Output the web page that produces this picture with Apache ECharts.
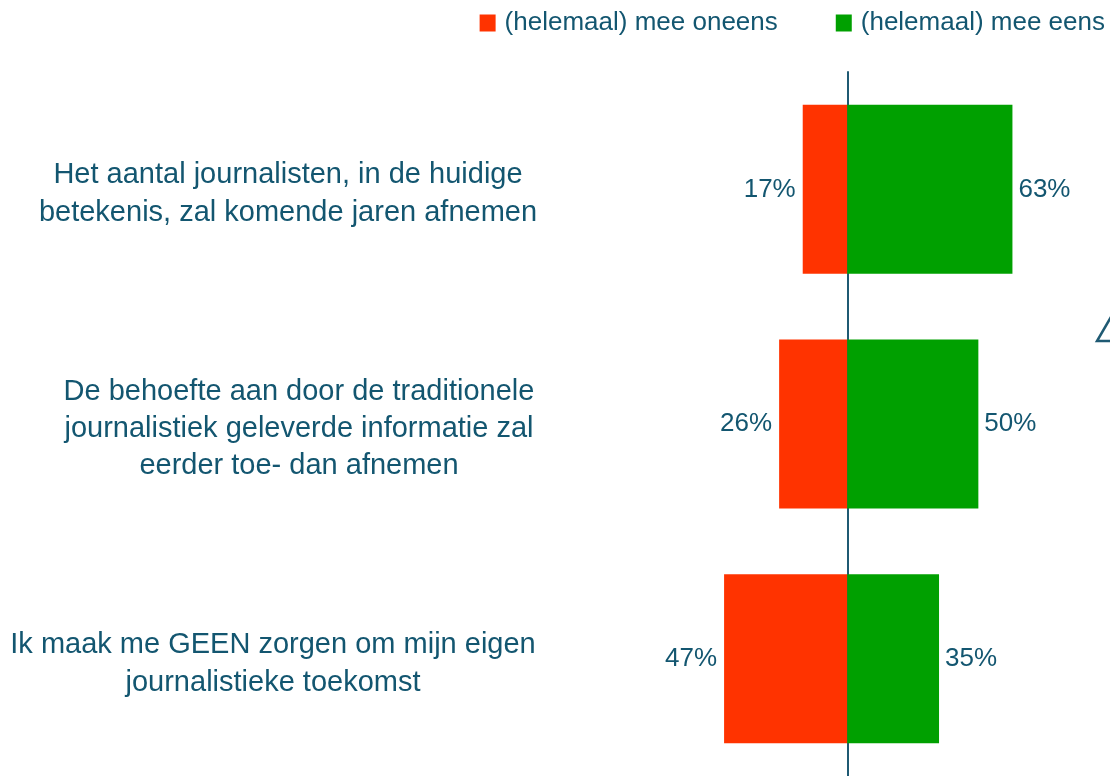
<!DOCTYPE html>
<html>
<head>
<meta charset="utf-8">
<script src="https://cdn.jsdelivr.net/npm/echarts@6/dist/echarts.min.js"></script>
<style>
  html, body { margin: 0; padding: 0; background: #fff; }
  #chart { width: 1110px; height: 776px; }
</style>
</head>
<body>
<div id="chart"></div>
<script>
var categories = [
  'Het aantal journalisten, in de huidige\nbetekenis, zal komende jaren afnemen',
  'De behoefte aan door de traditionele\njournalistiek geleverde informatie zal\neerder toe- dan afnemen',
  'Ik maak me GEEN zorgen om mijn eigen\njournalistieke toekomst'
]
var disagree = [17, 26, 47]
var agree = [63, 50, 35]
var legendNames = ['(helemaal) mee oneens', '(helemaal) mee eens']

var textColor = '#135670'
var font = '"Liberation Sans", Arial, sans-serif'

var chart = echarts.init(document.getElementById('chart'))

var option = {
  animation: false,
  color: ['#ff3300', '#00a000'],
  textStyle: { fontFamily: font, color: textColor },
  legend: {
    data: legendNames,
    top: 5,
    right: 0,
    itemWidth: 16,
    itemHeight: 17,
    itemGap: 58,
    icon: 'rect',
    textStyle: { fontSize: 26, color: textColor, fontFamily: font, padding: [0, 0, 0, 4] }
  },
  grid: {
    left: 690,
    right: 53,
    top: 72,
    bottom: 0,
    containLabel: false,
    outerBoundsMode: 'none'
  },
  xAxis: {
    type: 'value',
    min: -60,
    max: 80,
    show: false
  },
  yAxis: {
    type: 'category',
    inverse: true,
    data: categories,
    axisLine: { onZero: true, lineStyle: { color: '#1f5a73', width: 2 } },
    axisTick: { show: false },
    axisLabel: {
      // labels stay anchored to the grid's left edge, not the zero line
      margin: 402,
      align: 'center',
      formatter: function (v, i) {
        return '{r' + i + '|' + v + '}'
      },
      rich: {
        r0: { fontSize: 29, lineHeight: 38, color: textColor, fontFamily: font, padding: [10, 0, 0, 0] },
        r1: { fontSize: 29, lineHeight: 37, color: textColor, fontFamily: font, padding: [9, 0, 0, 22] },
        r2: { fontSize: 29, lineHeight: 38, color: textColor, fontFamily: font, padding: [10, 30, 0, 0] }
      }
    }
  },
  graphic: [
    {
      type: 'polyline',
      shape: { points: [[1111, 317], [1097, 341], [1111, 341]] },
      style: { stroke: '#1f5a73', lineWidth: 2.5, fill: null }
    }
  ],
  series: [
    {
      name: legendNames[0],
      type: 'bar',
      barWidth: '72%',
      barGap: '-100%',
      z: 1,
      data: disagree.map(function (v) { return -v }),
      label: {
        show: true,
        position: 'left',
        distance: 7,
        fontSize: 26,
        color: textColor,
        fontFamily: font,
        padding: [4, 0, 0, 0],
        formatter: function (p) { return Math.abs(p.value) + '%' }
      }
    },
    {
      name: legendNames[1],
      type: 'bar',
      barWidth: '72%',
      z: 1,
      data: agree,
      label: {
        show: true,
        position: 'right',
        distance: 6,
        fontSize: 26,
        color: textColor,
        fontFamily: font,
        padding: [4, 0, 0, 0],
        formatter: '{c}%'
      }
    }
  ]
}

chart.setOption(option)
</script>
</body>
</html>
